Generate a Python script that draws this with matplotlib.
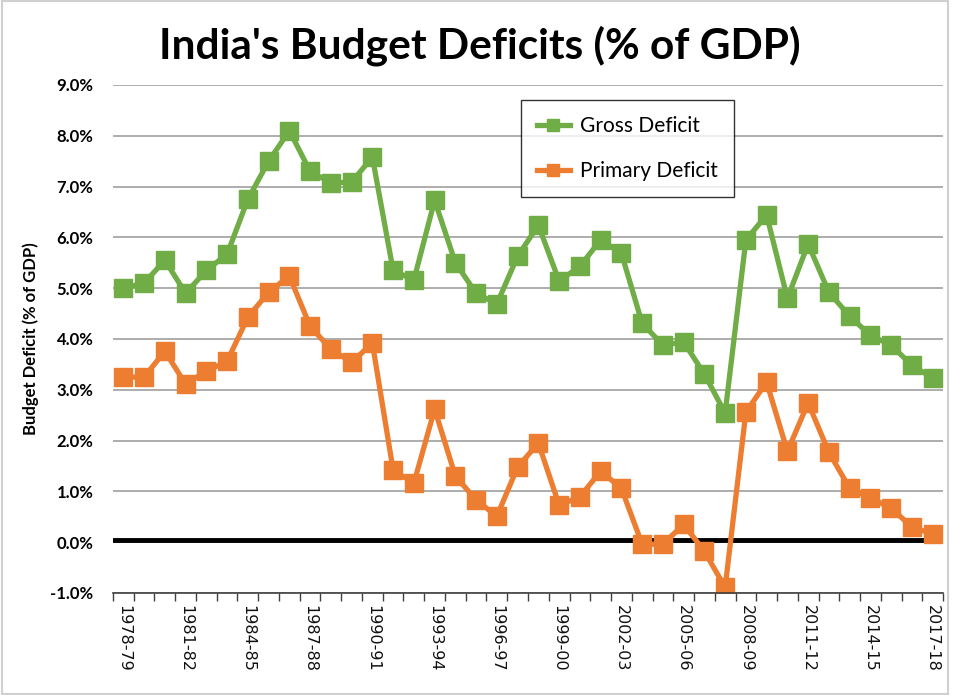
import matplotlib
matplotlib.use('Agg')
import matplotlib.pyplot as plt
from matplotlib.patches import Rectangle
import numpy as np

# fiscal years 1978-79 .. 2017-18
years = [f"{y}-{(y + 1) % 100:02d}" for y in range(1978, 2018)]

gross_deficit = [5.0, 5.1, 5.55, 4.9, 5.35, 5.67, 6.75, 7.5, 8.1, 7.3,
                 7.07, 7.09, 7.58, 5.35, 5.16, 6.73, 5.5, 4.9, 4.69, 5.63,
                 6.24, 5.14, 5.43, 5.95, 5.69, 4.31, 3.88, 3.94, 3.31, 2.54,
                 5.95, 6.44, 4.8, 5.87, 4.92, 4.45, 4.07, 3.88, 3.48, 3.23]

primary_deficit = [3.25, 3.25, 3.76, 3.11, 3.37, 3.56, 4.43, 4.92, 5.24, 4.25,
                   3.8, 3.54, 3.92, 1.42, 1.16, 2.62, 1.3, 0.83, 0.51, 1.48,
                   1.95, 0.73, 0.89, 1.4, 1.06, -0.04, -0.04, 0.35, -0.18, -0.89,
                   2.56, 3.15, 1.79, 2.74, 1.77, 1.06, 0.87, 0.67, 0.3, 0.16]

y_ticks = np.arange(-1, 10, 1)

green = '#70AD47'
orange = '#ED7D31'
label_font = 'Lato'

fig = plt.figure(figsize=(9.6, 6.95), dpi=100)
ax = fig.add_axes([0.1177, 0.1468, 0.8646, 0.7309])

x = np.arange(len(years))
ax.plot(x, gross_deficit, color=green, lw=3.8, marker='s', ms=13, label='Gross Deficit')
ax.plot(x, primary_deficit, color=orange, lw=3.8, marker='s', ms=13, label='Primary Deficit')
ax.axhline(0.05, color='black', lw=3.5, zorder=1)

ax.set_xlim(-0.5, len(years) - 0.5)
ax.set_ylim(-1, 9)
ax.set_yticks(y_ticks)
ax.set_yticklabels([f"{v:.1f}%" for v in y_ticks], fontweight='bold', fontsize=12,
                   family=label_font)
ax.tick_params(axis='y', length=0, pad=14)
ax.grid(axis='y', color='#a0a0a0', lw=1.2)
ax.set_axisbelow(True)

ax.set_xticks(x[::3])
ax.set_xticklabels(years[::3], rotation=270, fontsize=11.5, color='#111111')
ax.set_xticks(np.arange(-0.5, len(years)), minor=True)
ax.tick_params(axis='x', which='major', length=0, pad=9)
ax.tick_params(axis='x', which='minor', length=6, width=1, color='#404040')

for s in ['top', 'right', 'left']:
    ax.spines[s].set_visible(False)
ax.spines['bottom'].set_color('#404040')
ax.spines['bottom'].set_linewidth(1.2)

ax.set_ylabel('Budget Deficit (% of GDP)', fontsize=12, fontweight='bold',
              family=label_font, labelpad=8)

leg = ax.legend(loc='upper left', bbox_to_anchor=(0.479, 0.99),
                prop={'family': label_font, 'size': 15},
                frameon=True, fancybox=False, edgecolor='black',
                labelspacing=1.2, handlelength=1.6, handletextpad=0.5,
                borderpad=0.75, markerscale=0.7)
leg.get_frame().set_linewidth(1.0)

fig.text(0.5, 0.935, "India's Budget Deficits (% of GDP)", ha='center', va='center',
         fontsize=30.5, fontweight='bold', family=label_font)

fig.patches.append(Rectangle((0.002, 0.002), 0.986, 0.996, transform=fig.transFigure,
                             fill=False, edgecolor='#d0d0d0', lw=1.5))

fig.savefig('out.png', dpi=100)
